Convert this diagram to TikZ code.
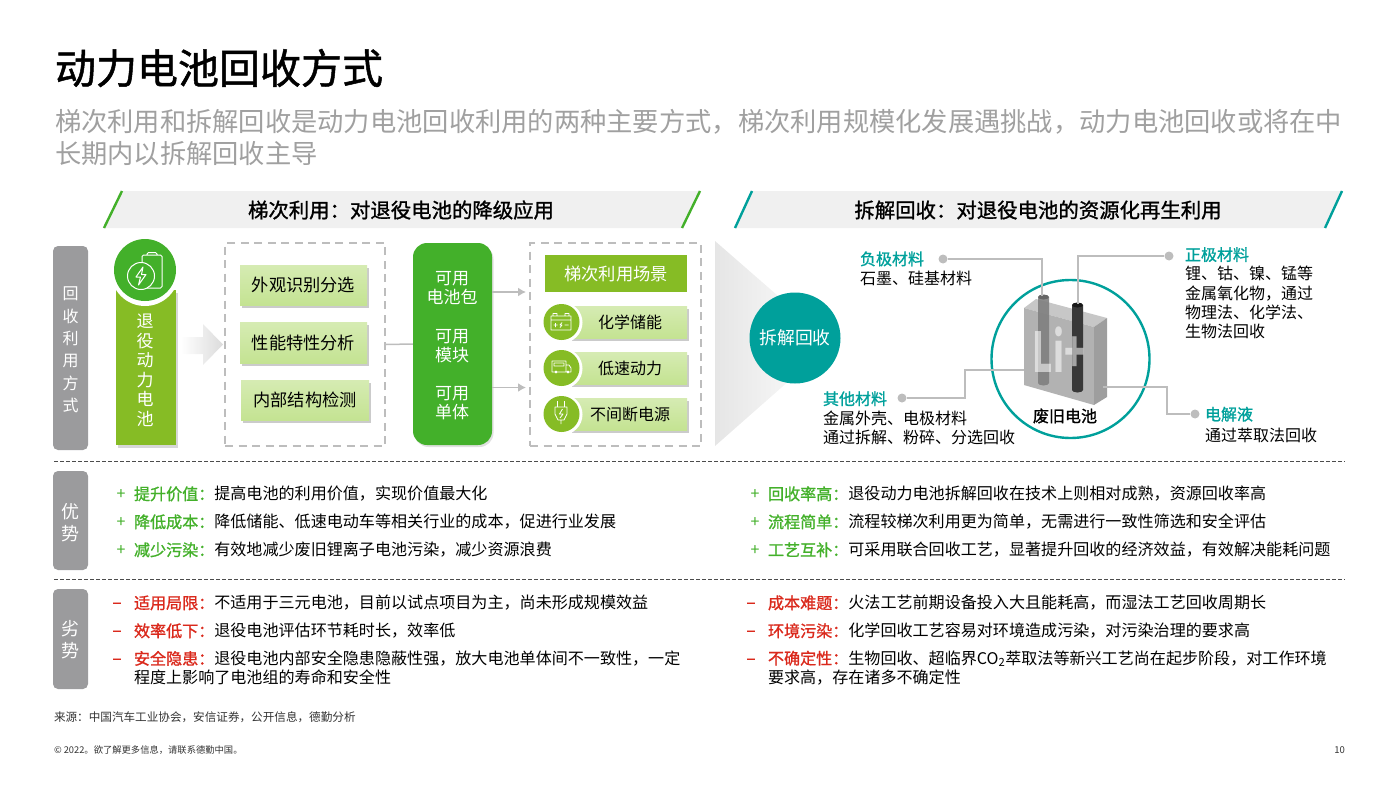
\documentclass[tikz,border=0pt]{standalone}
\usepackage{fontspec}
\setmainfont{Noto Sans CJK SC}
\newfontfamily\medfont[FakeBold=1.2]{Noto Sans CJK SC}
\usetikzlibrary{shadows,arrows.meta}

\definecolor{dgreen}{HTML}{86BC25}
\definecolor{mgreen}{HTML}{43B02A}
\definecolor{dteal}{HTML}{00A09B}
\definecolor{dred}{HTML}{DA291C}
\definecolor{tagGray}{HTML}{9B9B9D}
\definecolor{subGray}{HTML}{A0A0A0}
\definecolor{lineGray}{HTML}{BDBDBD}
\definecolor{leafGreen}{HTML}{C4E392}

\newcommand\fs[2]{\fontsize{#1}{#2}\selectfont}

\tikzset{
  txt/.style={inner sep=0pt, outer sep=0pt, anchor=west, align=left},
  tag/.style={fill=tagGray, rounded corners=5pt, inner sep=0pt, minimum width=35pt},
  tagtext/.style={text=white, inner sep=0pt, align=center},
  dashbox/.style={draw=lineGray, line width=1.8pt, dash pattern=on 8pt off 5.5pt, inner sep=0pt},
  stepbox/.style={top color=leafGreen!70!white, bottom color=leafGreen, inner sep=0pt, align=center,
    drop shadow={shadow xshift=1.5pt, shadow yshift=-2.5pt, fill=black!45, opacity=.45}},
  link/.style={draw=lineGray, line width=1.5pt},
  dot/.style={circle, fill=lineGray, inner sep=0pt, minimum size=9pt},
  icon/.style={draw=white, line width=1pt, line join=round},
}

\begin{document}
\begin{tikzpicture}[x=1pt, y=-1pt]
  \useasboundingbox (0,0) rectangle (1399,787);

  % title
  \node[txt, font=\medfont\fs{41}{49}] (title) at (55,68) {动力电池回收方式};
  \node[txt, text=subGray, font=\fs{26.27}{31.2}] (subtitle) at (55,137.5)
    {梯次利用和拆解回收是动力电池回收利用的两种主要方式，梯次利用规模化发展遇挑战，动力电池回收或将在中\\长期内以拆解回收主导};

  % header bars
  \fill[black!6] (103,228) -- (122,191) -- (700,191) -- (682,228) -- cycle;
  \fill[black!6] (734,228) -- (753,191) -- (1343,191) -- (1324,228) -- cycle;
  \draw[mgreen, line width=2.4pt] (104,228) -- (122,191) (682,228) -- (700,191);
  \draw[dteal, line width=2.4pt] (735,228) -- (752,191) (1325,228) -- (1342,191);
  \node[font=\medfont\fs{20.4}{24}, inner sep=0pt] (headleft) at (401,210) {梯次利用：对退役电池的降级应用};
  \node[font=\medfont\fs{20.4}{24}, inner sep=0pt] (headright) at (1038,210) {拆解回收：对退役电池的资源化再生利用};

  % left tags
  \node[tag, minimum height=204pt] (tagway) at (70.5,348) {};
  \node[tag, minimum height=99pt] (tagpro) at (70.5,520.5) {};
  \node[tag, minimum height=100pt] (tagcon) at (70.5,639) {};
  \node[tagtext, font=\fs{16}{22.3}] (tagwaytext) at (70.5,350) {回\\收\\利\\用\\方\\式};
  \node[tagtext, font=\fs{18}{22}] (tagprotext) at (70.5,522.5) {优\\势};
  \node[tagtext, font=\fs{18}{22}] (tagcontext) at (70.5,640) {劣\\势};

  % retired battery column
  \node[fill=dgreen, minimum width=60pt, minimum height=155pt, inner sep=0pt,
    drop shadow={shadow xshift=1.5pt, shadow yshift=-2.5pt, fill=black!45, opacity=.35}] (column) at (146,367.5) {};
  \node[circle, fill=white, minimum size=68pt, inner sep=0pt] (ring) at (145,272) {};
  \node[circle, fill=mgreen, minimum size=62pt, inner sep=0pt] (badge) at (145,270) {};
  \node[text=white, font=\fs{17}{19.5}, align=center, inner sep=0pt] (columntext) at (145,370.5) {退\\役\\动\\力\\电\\池};
  \draw[icon, rounded corners=1.5pt] (147,255) -- (147,252.5) -- (157,252.5) -- (157,255) (142,255) rectangle (162,288);
  \node[circle, draw=white, fill=mgreen, line width=1pt, minimum size=27pt, inner sep=0pt] (badgebolt) at (141,276) {};
  \draw[icon] (143,267) -- (136,277) -- (140.5,277) -- (138.5,285) -- (146,274.5) -- (141.5,274.5) -- cycle;

  % fading arrow
  \shade[left color=white, right color=black!14] (181,337) -- (203,337) -- (203,324) -- (223,344.5)
    -- (203,365) -- (203,354) -- (181,354) -- cycle;

  % sorting
  \node[dashbox, minimum width=160pt, minimum height=203pt] (sortbox) at (305,344.5) {};
  \node[stepbox, minimum width=127pt, minimum height=40pt, font=\fs{17.2}{20}] (stepa) at (303.5,285) {外观识别分选};
  \node[stepbox, minimum width=127pt, minimum height=41pt, font=\fs{17.2}{20}] (stepb) at (303.5,342.5) {性能特性分析};
  \node[stepbox, minimum width=128pt, minimum height=40pt, font=\fs{17.2}{20}] (stepc) at (305,400) {内部结构检测};

  % usable parts
  \node[fill=mgreen, rounded corners=14pt, minimum width=79pt, minimum height=202pt, inner sep=0pt,
    drop shadow={shadow xshift=1.5pt, shadow yshift=-2pt, fill=black!40, opacity=.3}] (partbox) at (452.5,344) {};
  \node[text=white, font=\fs{17}{19.2}, align=center, inner sep=0pt] (parta) at (452,288) {可用\\电池包};
  \node[text=white, font=\fs{17}{19.2}, align=center, inner sep=0pt] (partb) at (452,346) {可用\\模块};
  \node[text=white, font=\fs{17}{19.2}, align=center, inner sep=0pt] (partc) at (452,403) {可用\\单体};
  \draw[link] (sortbox.east) -- (partbox.west);

  % scenes
  \node[dashbox, minimum width=171pt, minimum height=203pt] (scenebox) at (615.5,344.5) {};
  \coordinate (outa) at (492,292);
  \coordinate (outb) at (492,387.5);
  \coordinate (ina) at (526,292);
  \coordinate (inb) at (526,387.5);
  \draw[link, -{Latex[length=8pt,width=9pt]}] (outa) -- (ina);
  \draw[link, -{Latex[length=8pt,width=9pt]}] (outb) -- (inb);
  \node[fill=dgreen, minimum width=142pt, minimum height=37pt, inner sep=0pt, text=white, font=\fs{17.3}{20}] (scenehead) at (616,273.5) {梯次利用场景};
  \foreach \i/\yy/\word in {a/322/化学储能, b/368/低速动力, c/414/不间断电源} {
    \node[stepbox, minimum width=117pt, minimum height=32pt, font=\fs{16}{19}] (bar\i) at (628.5,\yy) {\hspace*{3pt}\word};
    \node[circle, fill=white, minimum size=41pt, inner sep=0pt] (ring\i) at (562,\yy+.5) {};
    \node[circle, fill=dgreen, minimum size=36pt, inner sep=0pt] (dot\i) at (561.5,\yy) {};
  }
  % scene icons
  \draw[icon, line width=.8pt] (551,316) rectangle (571,330) (551,320) -- (571,320) (553,316) -- (553,313.5) -- (557,313.5) -- (557,316)
    (565,316) -- (565,313.5) -- (569,313.5) -- (569,316) (553.5,325) -- (557.5,325) (555.5,323) -- (555.5,327)
    (562,322.5) -- (560,325) -- (562,325) -- (560,327.5) (564.5,325) -- (568.5,325);
  \draw[icon, line width=.8pt] (552,361) rectangle (566,372) (566,365) -- (569,365) -- (571,368) -- (571,372) -- (566,372)
    (554,363) -- (564,363) -- (564,366) -- (554,366) -- cycle (556,372) circle[radius=1pt] (568,372) circle[radius=1pt];
  \draw[icon, line width=.8pt] (557.5,401) -- (557.5,407) (564.5,401) -- (564.5,407) (555,407) -- (567,407) -- (567,414) -- (564,420)
    -- (558,420) -- (555,414) -- cycle (561,420) -- (561,424)
    (562.5,409) -- (559.5,414) -- (563,414) -- (560,418);

  % fading triangle
  \shade[left color=black!10, right color=white] (715,241) -- (832,343) -- (715,446) -- cycle;
  \node[circle, fill=dteal, minimum size=91pt, inner sep=0pt, text=white, font=\fs{17.8}{20}] (recycle) at (795,338) {拆解回收};

  % battery
  \node[circle, draw=dteal, line width=2.4pt, minimum size=158pt, inner sep=0pt] (ringbig) at (1070.5,359) {};
  \fill[black!22] (1024,308) -- (1036,299) -- (1107,318) -- (1094,327) -- cycle;
  \fill[black!30] (1024,308) -- (1094,327) -- (1094,405) -- (1024,385) -- cycle;
  \fill[black!38] (1094,327) -- (1107,318) -- (1107,397) -- (1094,405) -- cycle;
  \fill[black!50, opacity=.9] (1038,297) -- (1038,383) arc[start angle=180, end angle=360, x radius=5.5pt, y radius=2.5pt] -- (1049,297) -- cycle;
  \fill[black!60] (1043.5,297) ellipse[x radius=5.5pt, y radius=2.5pt];
  \fill[black!78] (1072,305) -- (1072,390) arc[start angle=180, end angle=360, x radius=5.5pt, y radius=2.5pt] -- (1083,305) -- cycle;
  \fill[black!90] (1077.5,305) ellipse[x radius=5.5pt, y radius=2.5pt];
  \node[text=white, text opacity=.55, font=\bfseries\fs{55}{60}, inner sep=0pt] (liplus) at (1059,350) {\scalebox{.62}[1]{Li+}};
  \node[font=\medfont\fs{16}{19}, inner sep=0pt] (scrap) at (1065,416) {废旧电池};

  % material callouts
  \node[dot] (dotneg) at (943,259) {};
  \node[dot] (dotpos) at (1169,256) {};
  \node[dot] (dototh) at (902,398) {};
  \node[dot] (dotele) at (1195,414) {};
  \coordinate (rodneg) at (1042,296);
  \coordinate (rodpos) at (1078,304);
  \coordinate (caseleft) at (1024,370);
  \coordinate (caseright) at (1103,387);
  \draw[link] (dotneg) -| (rodneg);
  \draw[link] (dotpos) -| (rodpos);
  \draw[link] (dototh) -- (965,398) -- (965,370) -- (caseleft);
  \draw[link] (dotele) -- (1167,414) -- (1167,387) -- (caseright);
  \node[txt, font=\fs{16}{19.2}] (negtext) at (860,268.5) {{\color{dteal}\medfont 负极材料}\\石墨、硅基材料};
  \node[txt, font=\fs{16}{19.2}] (postext) at (1185,293) {{\color{dteal}\medfont 正极材料}\\锂、钴、镍、锰等\\金属氧化物，通过\\物理法、化学法、\\生物法回收};
  \node[txt, font=\fs{16}{19.2}] (othtext) at (823,418) {{\color{dteal}\medfont 其他材料}\\金属外壳、电极材料\\通过拆解、粉碎、分选回收};
  \node[txt, font=\fs{16}{21.6}] (eletext) at (1205,425) {{\color{dteal}\medfont 电解液}\\通过萃取法回收};

  % separators
  \coordinate (sepa) at (54,461);
  \coordinate (sepb) at (54,579);
  \draw[black!70, dash pattern=on 4pt off 2pt, line width=.7pt] (sepa) -- +(1291,0);
  \draw[black!70, dash pattern=on 4pt off 2pt, line width=.7pt] (sepb) -- +(1291,0);

  % pros
  \foreach \i/\xx/\yy/\head/\body in {
    a/134/494/提升价值/提高电池的利用价值，实现价值最大化,
    b/134/522/降低成本/降低储能、低速电动车等相关行业的成本，促进行业发展,
    c/134/550/减少污染/有效地减少废旧锂离子电池污染，减少资源浪费,
    d/768/494/回收率高/退役动力电池拆解回收在技术上则相对成熟，资源回收率高,
    e/768/522/流程简单/流程较梯次利用更为简单，无需进行一致性筛选和安全评估,
    f/768/550/工艺互补/可采用联合回收工艺，显著提升回收的经济效益，有效解决能耗问题} {
    \node[txt, font=\fs{16.07}{19.2}] (pro\i) at (\xx,\yy) {{\color{mgreen}\medfont\head：}\body};
    \node[text=mgreen, font=\fs{16}{19.2}, inner sep=0pt] (plus\i) at (\xx-13,\yy+1) {+};
  }

  % cons
  \foreach \i/\xx/\yy/\head/\body in {
    a/134/603/适用局限/不适用于三元电池，目前以试点项目为主，尚未形成规模效益,
    b/134/631/效率低下/退役电池评估环节耗时长，效率低,
    c/134/668/安全隐患/退役电池内部安全隐患隐蔽性强，放大电池单体间不一致性，一定\\程度上影响了电池组的寿命和安全性,
    d/768/603/成本难题/火法工艺前期设备投入大且能耗高，而湿法工艺回收周期长,
    e/768/631/环境污染/化学回收工艺容易对环境造成污染，对污染治理的要求高,
    f/768/668/不确定性/生物回收、超临界CO\textsubscript{2}萃取法等新兴工艺尚在起步阶段，对工作环境\\要求高，存在诸多不确定性} {
    \node[txt, font=\fs{16.07}{19.2}] (con\i) at (\xx,\yy) {{\color{dred}\medfont\head：}\body};
  }
  \foreach \i/\xx/\yy in {a/117/606, b/117/634, c/117/662, d/751/606, e/751/634, f/751/662} {
    \node[text=dred, font=\medfont\fs{16}{19.2}, inner sep=0pt] (minus\i) at (\xx,\yy) {−};
  }

  % footer
  \node[txt, text=black!80, font=\fs{11.6}{14}] (source) at (54,717) {来源：中国汽车工业协会，安信证券，公开信息，德勤分析};
  \node[txt, text=black!80, font=\fs{9.3}{12}] (legal) at (54,750) {© 2022。欲了解更多信息，请联系德勤中国。};
  \node[inner sep=0pt, anchor=east, text=black!80, font=\fs{9.5}{12}] (pageno) at (1345,750) {10};
\end{tikzpicture}
\end{document}
